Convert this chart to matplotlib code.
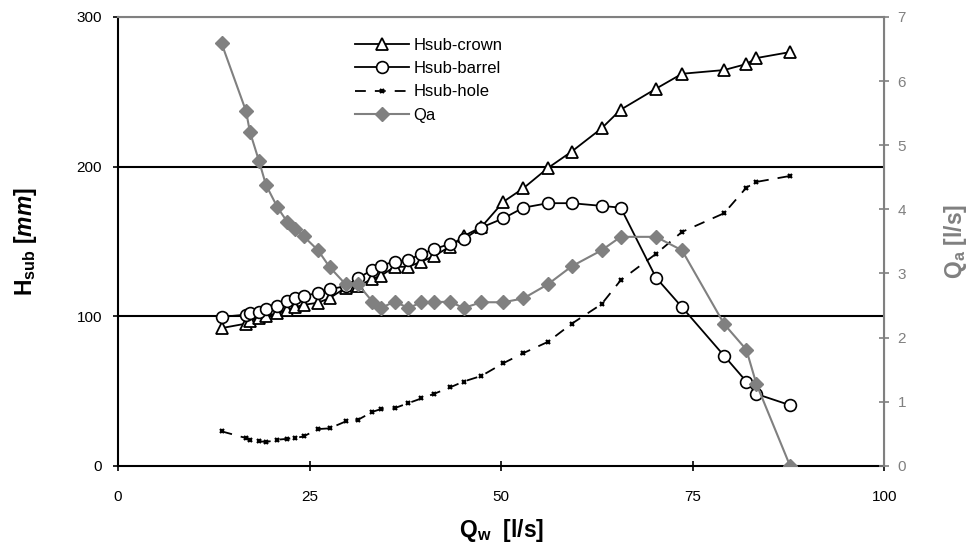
import numpy as np
import matplotlib
matplotlib.use("Agg")
import matplotlib.pyplot as plt

plt.rcParams['font.family'] = ['Liberation Sans', 'DejaVu Sans']
plt.rcParams['mathtext.fontset'] = 'custom'
plt.rcParams['mathtext.rm'] = 'Liberation Sans:bold'
plt.rcParams['mathtext.bf'] = 'Liberation Sans:bold'
plt.rcParams['mathtext.it'] = 'Liberation Sans:italic:bold'

# water discharge Qw [l/s]
qw = [13.5, 16.7, 17.2, 18.4, 19.3, 20.8, 22.1, 23.1, 24.2, 26.1, 27.6, 29.7,
      31.3, 33.2, 34.3, 36.1, 37.9, 39.6, 41.2, 43.3, 45.1, 47.4, 50.3, 52.9,
      56.1, 59.2, 63.1, 65.6, 70.2, 73.6, 79.1, 82.0, 83.3, 87.7]

# submergence [mm]
h_crown = [92, 95, 97, 99, 100, 102, 104, 106, 107.5, 109, 112, 119, 120, 125,
           127, 133, 133, 136.5, 140, 146.5, 153.5, 159.5, 176.5, 185.5, 199,
           210, 225.5, 238, 252, 262, 264.5, 268.5, 272.5, 276.5]
h_barrel = [99.5, 101, 102, 103, 104.7, 107, 109.8, 112, 113.6, 115.4, 118, 120,
            125.4, 131, 133.8, 136.5, 137.6, 141.6, 144.7, 148.3, 151.4, 159.2,
            165.4, 172.5, 175.5, 175.5, 173.7, 172.5, 125.8, 106, 73.5, 56.3,
            48, 40.5]
h_hole = [23, 18.5, 17.5, 16.5, 15.8, 17.4, 18, 18.5, 19.6, 24.5, 25, 29.6,
          30.7, 36, 37.9, 38.5, 41.9, 45, 48, 52.3, 56.3, 60, 68.6, 75.3, 82.8,
          94.9, 108, 124, 141.6, 156.3, 168.8, 185.9, 189.7, 193.7]

# air discharge Qa [l/s]
qa = [6.59, 5.53, 5.21, 4.75, 4.38, 4.03, 3.80, 3.70, 3.58, 3.36, 3.10, 2.83,
      2.83, 2.56, 2.46, 2.56, 2.46, 2.55, 2.55, 2.56, 2.46, 2.55, 2.55, 2.61,
      2.83, 3.11, 3.36, 3.57, 3.57, 3.36, 2.21, 1.81, 1.28, 0.0]

grey = '#808080'

fig = plt.figure(figsize=(9.76, 5.46), dpi=100)
ax = fig.add_axes([0.121, 0.147, 0.785, 0.822])
ax2 = ax.twinx()

l1, = ax.plot(qw, h_crown, color='black', lw=1.3, marker='^', ms=9,
              mfc='white', mec='black', mew=1.3, label='Hsub-crown', zorder=4)
l2, = ax.plot(qw, h_barrel, color='black', lw=1.3, marker='o', ms=8.5,
              mfc='white', mec='black', mew=1.2, label='Hsub-barrel', zorder=4)
l3, = ax.plot(qw, h_hole, color='black', lw=1.3, ls=(0, (6, 5)), marker='x',
              ms=3.5, mew=1.6, label='Hsub-hole', zorder=4)
l4, = ax2.plot(qw, qa, color=grey, lw=1.5, marker='D', ms=7, mfc=grey,
               mec=grey, label='Qa', zorder=3)

ax.set_xlim(0, 100)
ax.set_ylim(0, 300)
ax2.set_ylim(0, 7)
ax.set_xticks([0, 25, 50, 75, 100])
ax.set_yticks([0, 100, 200, 300])
ax2.set_yticks(range(8))

for y in [100, 200]:
    ax.axhline(y, color='black', lw=1.5, zorder=1)

ax.tick_params(axis='both', labelsize=11, direction='inout', length=7, width=1.2)
ax.tick_params(axis='y', pad=8)
ax.tick_params(axis='x', pad=14)
ax2.tick_params(axis='y', labelsize=11, direction='inout', length=7,
                width=1.2, color=grey, labelcolor=grey, pad=6)

ax.spines['left'].set_linewidth(1.5)
ax.spines['bottom'].set_linewidth(1.5)
for s in ['top', 'right']:
    ax.spines[s].set_color(grey)
    ax2.spines[s].set_color(grey)
ax2.spines['top'].set_linewidth(1.5)
ax2.spines['right'].set_linewidth(1.5)
ax2.spines['left'].set_visible(False)
ax2.spines['bottom'].set_visible(False)

ax.set_xlabel(r'Q$_{\mathbf{w}}$  [l/s]', fontsize=16.5, fontweight='bold',
              labelpad=9)
ax.set_ylabel(r'H$_{\mathbf{sub}}$ [$\mathit{mm}$]', fontsize=16.5,
              fontweight='bold', labelpad=27)
ax2.set_ylabel(r'Q$_{\mathbf{a}}$ [l/s]', fontsize=16.5, fontweight='bold',
               color=grey, labelpad=26)

ax2.set_zorder(ax.get_zorder() + 1)
ax2.patch.set_visible(False)

ax2.legend([l1, l2, l3, l4], ['Hsub-crown', 'Hsub-barrel', 'Hsub-hole', 'Qa'],
           loc='upper left', bbox_to_anchor=(0.29, 0.987), frameon=False,
           fontsize=12, handlelength=3.2, handletextpad=0.3, labelspacing=0.5)

fig.savefig('out.png', dpi=100)
